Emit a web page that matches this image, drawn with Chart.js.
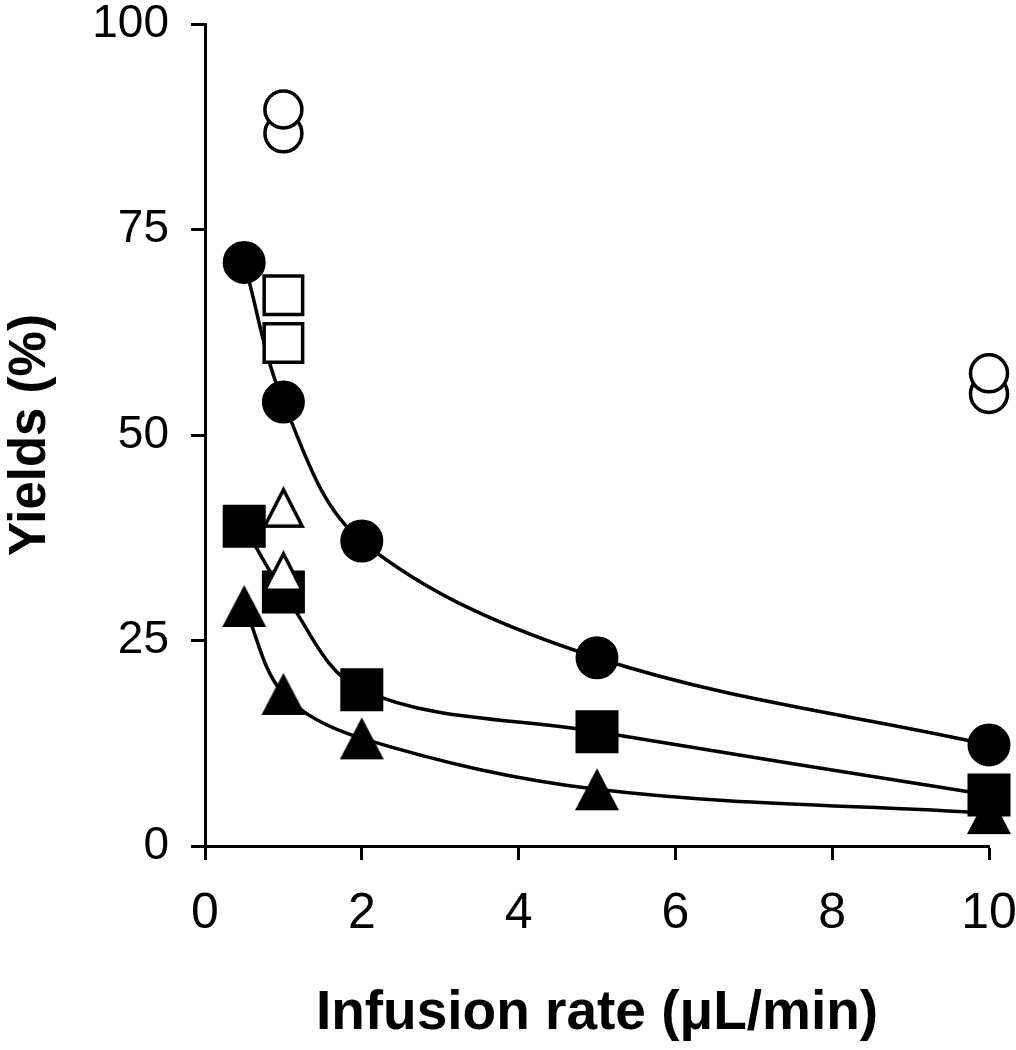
<!DOCTYPE html>
<html>
<head>
<meta charset="utf-8">
<script src="https://cdn.jsdelivr.net/npm/chart.js@4"></script>
<style>
  html, body { margin: 0; padding: 0; background: #fff; overflow: hidden; }
  #wrap { width: 1016px; height: 1050px; }
</style>
</head>
<body>
<div id="wrap"><canvas id="c" width="1016" height="1050"></canvas></div>
<script>
// ---- data ----
const rates = [0.5, 1, 2, 5, 10];
const filledCircle = [71, 54, 37.1, 22.9, 12.3];
const filledSquare = [38.9, 30.9, 19.0, 13.9, 6.2];
const filledTriangle = [29.2, 18.5, 13.1, 6.9, 4.0];

const openCircleX = [1, 1, 10, 10];
const openCircleY = [86.7, 89.6, 55.0, 57.5];
const openSquareX = [1, 1];
const openSquareY = [61.2, 67.0];
const openTriangleX = [1, 1];
const openTriangleY = [33.4, 41.2];

const xTicks = [0, 2, 4, 6, 8, 10];
const yTicks = [0, 25, 50, 75, 100];
const xTitle = 'Infusion rate (\u03BCL/min)';
const yTitle = 'Yields (%)';

function pts(xs, ys) { return xs.map((x, i) => ({ x: x, y: ys[i] })); }

function triangleMarker(w, h, fill, stroke, lw) {
  const pad = 2;
  const c = document.createElement('canvas');
  c.width = Math.ceil(w + pad * 2);
  c.height = Math.ceil(h + pad * 2);
  const ctx = c.getContext('2d');
  const cx = c.width / 2, cy = c.height / 2;
  const ins = lw ? lw / 2 : 0;
  ctx.beginPath();
  ctx.moveTo(cx, cy - h / 2 + ins * 1.6);
  ctx.lineTo(cx + w / 2 - ins * 1.6, cy + h / 2 - ins);
  ctx.lineTo(cx - w / 2 + ins * 1.6, cy + h / 2 - ins);
  ctx.closePath();
  ctx.fillStyle = fill;
  ctx.fill();
  if (lw) {
    ctx.lineWidth = lw;
    ctx.lineJoin = 'miter';
    ctx.strokeStyle = stroke;
    ctx.stroke();
  }
  return c;
}

const filledTri = triangleMarker(44, 42, '#000', '#000', 0);
const openTri = triangleMarker(43, 41, '#fff', '#000', 3.5);

const FONT = '"Liberation Sans", Arial, Helvetica, sans-serif';

function zeroPad(s) { s.paddingLeft = 0; s.paddingRight = 0; s.paddingTop = 0; s.paddingBottom = 0; }

const chart = new Chart(document.getElementById('c'), {
  type: 'scatter',
  data: {
    datasets: [
      { label: 'open circle', data: pts(openCircleX, openCircleY), order: 0,
        pointStyle: 'circle', pointRadius: 18.5, pointBorderWidth: 3.5,
        pointBackgroundColor: '#fff', pointBorderColor: '#000', showLine: false, clip: false },
      { label: 'open square', data: pts(openSquareX, openSquareY), order: 0,
        pointStyle: 'rect', pointRadius: 27.2, pointBorderWidth: 3.5,
        pointBackgroundColor: '#fff', pointBorderColor: '#000', showLine: false, clip: false },
      { label: 'open triangle', data: pts(openTriangleX, openTriangleY), order: 0,
        pointStyle: openTri, pointRadius: 21, showLine: false, clip: false },
      { label: 'filled circle', data: pts(rates, filledCircle), order: 1,
        pointStyle: 'circle', pointRadius: 20, pointBorderWidth: 3,
        pointBackgroundColor: '#000', pointBorderColor: '#000',
        showLine: true, borderColor: '#000', borderWidth: 3.5, tension: 0.35, clip: false },
      { label: 'filled square', data: pts(rates, filledSquare), order: 1,
        pointStyle: 'rect', pointRadius: 29, pointBorderWidth: 2,
        pointBackgroundColor: '#000', pointBorderColor: '#000',
        showLine: true, borderColor: '#000', borderWidth: 3.5, tension: 0.35, clip: false },
      { label: 'filled triangle', data: pts(rates, filledTriangle), order: 1,
        pointStyle: filledTri, pointRadius: 21,
        showLine: true, borderColor: '#000', borderWidth: 3.5, tension: 0.35, clip: false }
    ]
  },
  options: {
    responsive: false,
    animation: false,
    devicePixelRatio: 1,
    events: [],
    layout: { autoPadding: false, padding: { top: 24, right: 27, bottom: 0, left: 0 } },
    plugins: { legend: { display: false }, tooltip: { enabled: false } },
    scales: {
      x: {
        type: 'linear', min: 0, max: 10,
        afterFit: (s) => { s.height = 204; zeroPad(s); },
        afterBuildTicks: (s) => { s.ticks = xTicks.map(v => ({ value: v })); },
        border: { display: true, color: '#000', width: 3 },
        grid: { drawOnChartArea: false, drawTicks: true, tickLength: 14, tickWidth: 3, tickColor: '#000' },
        ticks: { color: '#000', padding: 24, maxRotation: 0, autoSkip: false,
                 font: { family: FONT, size: 50 } },
        title: { display: true, text: xTitle, color: '#000',
                 font: { family: FONT, size: 55, weight: 'bold' }, padding: { top: 0, bottom: 3 } }
      },
      y: {
        type: 'linear', min: 0, max: 100,
        afterFit: (s) => { s.width = 205; zeroPad(s); },
        afterBuildTicks: (s) => { s.ticks = yTicks.map(v => ({ value: v })); },
        border: { display: true, color: '#000', width: 3 },
        grid: { drawOnChartArea: false, drawTicks: true, tickLength: 14, tickWidth: 3, tickColor: '#000' },
        ticks: { color: '#000', padding: 22, autoSkip: false,
                 font: { family: FONT, size: 46 } },
        title: { display: true, text: yTitle, color: '#000',
                 font: { family: FONT, size: 51, weight: 'bold' }, padding: { top: 0, bottom: 0 } }
      }
    }
  }
});
</script>
</body>
</html>
